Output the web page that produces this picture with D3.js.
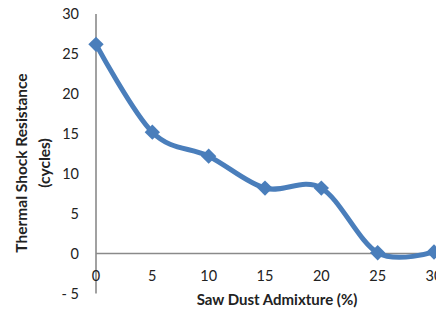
<!DOCTYPE html>
<html><head><meta charset="utf-8">
<script src="https://cdn.jsdelivr.net/npm/d3@7"></script>
<style>body{margin:0;background:#fff}svg{display:block}</style>
</head><body>
<svg id="c" width="436" height="309"></svg>
<script>
const admixture = [0, 5, 10, 15, 20, 25, 30];
const resistance = [26.2, 15.2, 12.2, 8.2, 8.2, 0.1, 0.2];
const yTicks = [-5, 0, 5, 10, 15, 20, 25, 30];
const xTicks = [0, 5, 10, 15, 20, 25, 30];
const yTitle = ["Thermal Shock Resistance", "(cycles)"];
const xTitle = "Saw Dust Admixture (%)";

const svg = d3.select("#c");
const font = "Lato, 'Open Sans', sans-serif";
const x = d3.scaleLinear().domain([0, 30]).range([96, 434]);
const y = d3.scaleLinear().domain([-5, 30]).range([293.5, 14]);
const grey = "#8a8a8a";

svg.append("line").attr("x1", x(0)).attr("x2", x(0)).attr("y1", y(30)).attr("y2", y(-5))
  .attr("stroke", grey).attr("stroke-width", 1.6);
svg.append("line").attr("x1", x(0)).attr("x2", 436).attr("y1", y(0)).attr("y2", y(0))
  .attr("stroke", grey).attr("stroke-width", 1.6);

svg.append("g").selectAll("text").data(yTicks).join("text")
  .attr("x", 79).attr("y", d => y(d)).attr("dy", "0.35em")
  .attr("text-anchor", "end").attr("font-family", font).attr("font-size", 14.5).attr("fill", "#222")
  .text(d => d < 0 ? "-  " + Math.abs(d) : d);

svg.append("g").selectAll("text").data(xTicks).join("text")
  .attr("x", d => x(d)).attr("y", 281)
  .attr("text-anchor", "middle").attr("font-family", font).attr("font-size", 14.5).attr("fill", "#222")
  .text(d => d);

const data = admixture.map((a, i) => [a, resistance[i]]);
const line = d3.line().x(d => x(d[0])).y(d => y(d[1])).curve(d3.curveCardinal.tension(0));
svg.append("path").datum(data).attr("d", line).attr("fill", "none")
  .attr("stroke", "#4a7ebb").attr("stroke-width", 5).attr("stroke-linejoin", "round").attr("stroke-linecap", "round");

svg.append("g").selectAll("path").data(data).join("path")
  .attr("transform", d => `translate(${x(d[0])},${y(d[1])})`)
  .attr("d", d3.symbol(d3.symbolDiamond2, 150)())
  .attr("fill", "#4a7ebb");

svg.append("text").attr("x", 277).attr("y", 305).attr("text-anchor", "middle")
  .attr("font-family", font).attr("font-size", 15).attr("font-weight", "bold").attr("fill", "#222")
  .text(xTitle);
const yt = svg.append("text").attr("transform", "translate(0,163) rotate(-90)")
  .attr("text-anchor", "middle").attr("font-family", font).attr("font-size", 15.5).attr("font-weight", "bold").attr("fill", "#222");
yt.append("tspan").attr("x", 0).attr("y", 27).text(yTitle[0]);
yt.append("tspan").attr("x", 0).attr("y", 50).text(yTitle[1]);
</script>
</body></html>
